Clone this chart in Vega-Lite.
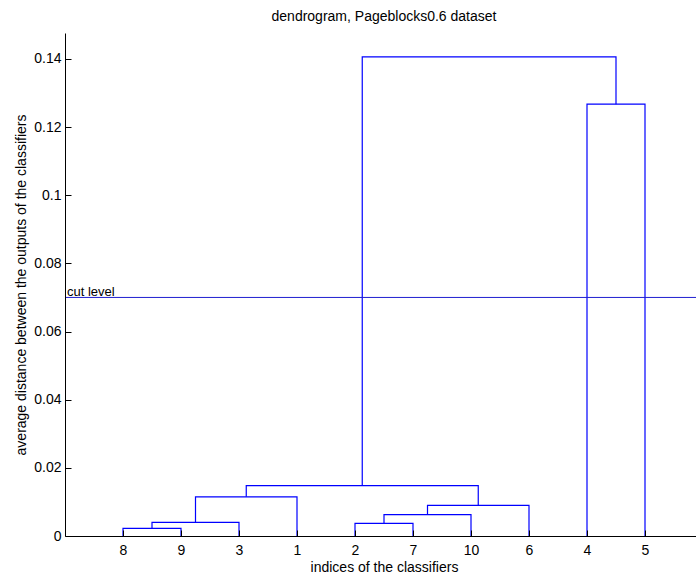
{
  "$schema": "https://vega.github.io/schema/vega-lite/v6.json",
  "autosize": "none",
  "width": 638,
  "height": 503,
  "padding": {"left": 65, "top": 33, "right": 0, "bottom": 40},
  "background": "white",
  "config": {"view": {"stroke": null}, "font": "Liberation Sans"},
  "title": {"text": "dendrogram, Pageblocks0.6 dataset", "fontSize": 14, "fontWeight": "normal", "color": "black", "anchor": "middle", "offset": 9, "font": "Liberation Sans"},
  "datasets": {
    "links": [
      {"link": "A", "o": 1, "x": 1, "h": 0},
      {"link": "A", "o": 2, "x": 1, "h": 0.00225},
      {"link": "A", "o": 3, "x": 2, "h": 0.00225},
      {"link": "A", "o": 4, "x": 2, "h": 0},
      {"link": "B", "o": 1, "x": 1.5, "h": 0.00225},
      {"link": "B", "o": 2, "x": 1.5, "h": 0.004},
      {"link": "B", "o": 3, "x": 3, "h": 0.004},
      {"link": "B", "o": 4, "x": 3, "h": 0},
      {"link": "C", "o": 1, "x": 2.25, "h": 0.004},
      {"link": "C", "o": 2, "x": 2.25, "h": 0.0115},
      {"link": "C", "o": 3, "x": 4, "h": 0.0115},
      {"link": "C", "o": 4, "x": 4, "h": 0},
      {"link": "D", "o": 1, "x": 5, "h": 0},
      {"link": "D", "o": 2, "x": 5, "h": 0.0037},
      {"link": "D", "o": 3, "x": 6, "h": 0.0037},
      {"link": "D", "o": 4, "x": 6, "h": 0},
      {"link": "E", "o": 1, "x": 5.5, "h": 0.0037},
      {"link": "E", "o": 2, "x": 5.5, "h": 0.0063},
      {"link": "E", "o": 3, "x": 7, "h": 0.0063},
      {"link": "E", "o": 4, "x": 7, "h": 0},
      {"link": "F", "o": 1, "x": 6.25, "h": 0.0063},
      {"link": "F", "o": 2, "x": 6.25, "h": 0.009},
      {"link": "F", "o": 3, "x": 8, "h": 0.009},
      {"link": "F", "o": 4, "x": 8, "h": 0},
      {"link": "G", "o": 1, "x": 3.125, "h": 0.0115},
      {"link": "G", "o": 2, "x": 3.125, "h": 0.0148},
      {"link": "G", "o": 3, "x": 7.125, "h": 0.0148},
      {"link": "G", "o": 4, "x": 7.125, "h": 0.009},
      {"link": "H", "o": 1, "x": 9, "h": 0},
      {"link": "H", "o": 2, "x": 9, "h": 0.1267},
      {"link": "H", "o": 3, "x": 10, "h": 0.1267},
      {"link": "H", "o": 4, "x": 10, "h": 0},
      {"link": "I", "o": 1, "x": 5.125, "h": 0.0148},
      {"link": "I", "o": 2, "x": 5.125, "h": 0.1406},
      {"link": "I", "o": 3, "x": 9.5, "h": 0.1406},
      {"link": "I", "o": 4, "x": 9.5, "h": 0.1267}
    ],
    "cut": [{"y": 0.07, "label": "cut level"}]
  },
  "layer": [
    {
      "data": {"name": "links"},
      "mark": {"type": "line", "color": "#0000ff", "strokeWidth": 1.2, "clip": true},
      "encoding": {
        "x": {
          "field": "x", "type": "quantitative",
          "scale": {"domain": [0, 11], "nice": false, "zero": false},
          "axis": {
            "title": "indices of the classifiers",
            "titleFont": "Liberation Sans", "titleFontSize": 14, "titleFontWeight": "normal", "titleColor": "black", "titlePadding": 3,
            "values": [1, 2, 3, 4, 5, 6, 7, 8, 9, 10],
            "labelExpr": "['8','9','3','1','2','7','10','6','4','5'][datum.value - 1]",
            "labelFont": "Liberation Sans", "labelFontSize": 14, "labelColor": "black", "labelPadding": 13,
            "tickSize": -6, "tickColor": "black", "domainColor": "black", "grid": false, "zindex": 1
          }
        },
        "y": {
          "field": "h", "type": "quantitative",
          "scale": {"domain": [0, 0.1476], "nice": false},
          "axis": {
            "title": "average distance between the outputs of the classifiers",
            "titleFont": "Liberation Sans", "titleFontSize": 14, "titleFontWeight": "normal", "titleColor": "black", "titlePadding": 5,
            "values": [0, 0.02, 0.04, 0.06, 0.08, 0.1, 0.12, 0.14],
            "format": ".2~f",
            "labelFont": "Liberation Sans", "labelFontSize": 14, "labelColor": "black", "labelPadding": 10,
            "tickSize": -6, "tickColor": "black", "domainColor": "black", "grid": false, "zindex": 1
          }
        },
        "detail": {"field": "link"},
        "order": {"field": "o"}
      }
    },
    {
      "data": {"name": "cut"},
      "mark": {"type": "rule", "color": "#1f1fd0", "strokeWidth": 1},
      "encoding": {"y": {"field": "y", "type": "quantitative"}}
    },
    {
      "data": {"name": "cut"},
      "mark": {"type": "text", "align": "left", "baseline": "alphabetic", "dx": 2, "dy": -1, "fontSize": 13, "font": "Liberation Sans", "color": "black"},
      "encoding": {
        "y": {"field": "y", "type": "quantitative"},
        "x": {"datum": 0, "type": "quantitative"},
        "text": {"field": "label"}
      }
    }
  ]
}
